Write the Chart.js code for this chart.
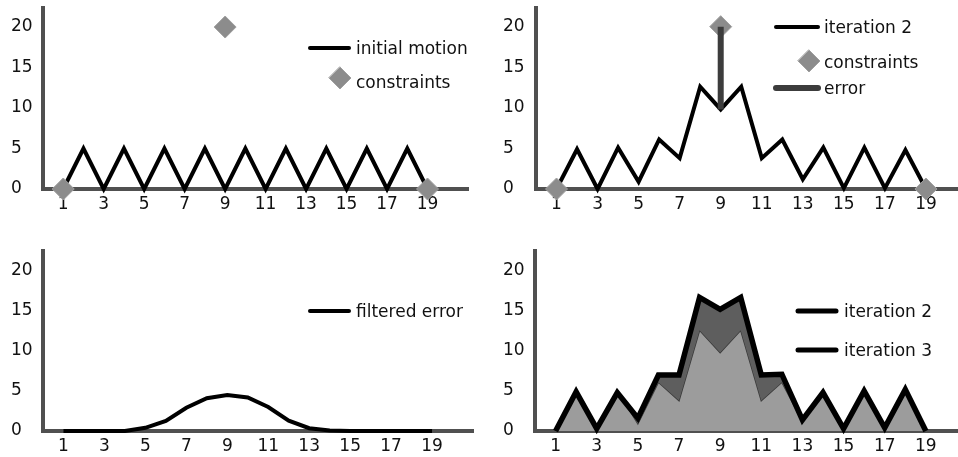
<!DOCTYPE html>
<html>
<head>
<meta charset="utf-8">
<script src="https://cdn.jsdelivr.net/npm/chart.js@4.4.1/dist/chart.umd.min.js"></script>
<style>
  html, body { margin:0; padding:0; background:#fff; width:958px; height:457px; overflow:hidden; }
  canvas { position:absolute; }
</style>
</head>
<body>
<canvas id="c1" width="480" height="248" style="left:0px;top:-20px"></canvas>
<canvas id="c2" width="500" height="248" style="left:479px;top:-20px"></canvas>
<canvas id="c3" width="480" height="249" style="left:0px;top:208px"></canvas>
<canvas id="c4" width="500" height="249" style="left:479px;top:208px"></canvas>
<script>
// ---------- data ----------
const xs = [1,2,3,4,5,6,7,8,9,10,11,12,13,14,15,16,17,18,19];
const xTickValues = [1,3,5,7,9,11,13,15,17,19];
const yTickValues = [0,5,10,15,20];

const initialMotion = [0,5,0,5,0,5,0,5,0,5,0,5,0,5,0,5,0,5,0];
const constraintX = [1,9,19];
const constraintY = [0,20,0];
const iteration2 = [0,4.9,0,5.1,0.9,6.1,3.8,12.6,9.8,12.6,3.8,6.1,1.2,5.1,0.1,5.1,0.1,4.8,0];
const errorX = [9,9];
const errorY = [20,9.8];
const filteredError = [0,0,0,0,0.4,1.25,2.9,4.1,4.5,4.2,3.0,1.3,0.35,0.05,0,0,0,0,0];
const iteration3 = [0,4.9,0.3,4.8,1.6,7.0,7.0,16.7,15.2,16.7,7.0,7.1,1.4,4.8,0.3,5.0,0.4,5.2,0];

// ---------- helpers ----------
const FONT_FAMILY = '"DejaVu Sans", "Liberation Sans", sans-serif';
const FONT_SIZE = 17;
const AXIS_COLOR = '#505050';
const DIAMOND_FILL = '#8c8c8c';
const DIAMOND_BORDER = '#a0a0a0';

function pts(xArr, yArr) { return xArr.map((x, i) => ({ x: x, y: yArr[i] })); }

function makeLegend(items, ox, oy) {
  return {
    id: 'panelLegend',
    afterDatasetsDraw(chart) {
      const ctx = chart.ctx;
      ctx.save();
      for (const it of items) {
        if (it.kind === 'line') {
          ctx.strokeStyle = it.color; ctx.lineWidth = it.width; ctx.lineCap = 'round';
          ctx.beginPath(); ctx.moveTo(it.x1 - ox, it.y - oy); ctx.lineTo(it.x2 - ox, it.y - oy); ctx.stroke();
        } else {
          const cx = it.cx - ox, cy = it.y - oy, r = it.r;
          ctx.fillStyle = DIAMOND_FILL; ctx.strokeStyle = DIAMOND_BORDER; ctx.lineWidth = 1;
          ctx.beginPath(); ctx.moveTo(cx, cy - r); ctx.lineTo(cx + r, cy); ctx.lineTo(cx, cy + r); ctx.lineTo(cx - r, cy); ctx.closePath();
          ctx.fill(); ctx.stroke();
        }
        ctx.fillStyle = '#111';
        ctx.font = FONT_SIZE + 'px ' + FONT_FAMILY;
        ctx.textBaseline = 'alphabetic'; ctx.textAlign = 'left';
        ctx.fillText(it.text, it.tx - ox, it.ty - oy);
      }
      ctx.restore();
    }
  };
}

function scales(yMax, yWidth, xHeight) {
  return {
    x: {
      type: 'linear', min: 0, max: 21,
      grid: { display: false, drawTicks: false },
      border: { display: true, color: AXIS_COLOR, width: 4 },
      afterBuildTicks: s => { s.ticks = xTickValues.map(v => ({ value: v })); },
      afterFit: s => { s.height = xHeight; },
      ticks: { autoSkip: false, maxRotation: 0, padding: 5, color: '#111',
               font: { family: FONT_FAMILY, size: FONT_SIZE },
               callback: v => String(v) }
    },
    y: {
      type: 'linear', min: 0, max: yMax,
      grid: { display: false, drawTicks: false },
      border: { display: true, color: AXIS_COLOR, width: 4 },
      afterBuildTicks: s => { s.ticks = yTickValues.map(v => ({ value: v })); },
      afterFit: s => { s.width = yWidth; },
      ticks: { crossAlign: 'far', padding: 0, color: '#111',
               font: { family: FONT_FAMILY, size: FONT_SIZE },
               callback: v => String(v) }
    }
  };
}

function baseOptions(padding, yMax, yWidth, xHeight) {
  return {
    responsive: false, animation: false, devicePixelRatio: 1,
    layout: { padding: padding },
    plugins: { legend: { display: false }, tooltip: { enabled: false } },
    scales: scales(yMax, yWidth, xHeight),
    elements: { point: { radius: 0 } }
  };
}

function diamondDataset(label, order) {
  return {
    label: label, data: pts(constraintX, constraintY), showLine: false,
    pointStyle: 'rectRot', pointRadius: 11, pointBackgroundColor: DIAMOND_FILL,
    pointBorderColor: DIAMOND_BORDER, pointBorderWidth: 1, clip: false, order: order
  };
}

function lineDataset(label, yArr, color, width, order) {
  return {
    label: label, data: pts(xs, yArr), borderColor: color, borderWidth: width,
    pointRadius: 0, fill: false, tension: 0, borderJoinStyle: 'miter', borderCapStyle: 'butt',
    clip: false, order: order
  };
}

// ---------- panel 1 ----------
new Chart(document.getElementById('c1'), {
  type: 'line',
  data: { datasets: [
    lineDataset('initial motion', initialMotion, '#000', 4, 1),
    diamondDataset('constraints', 0)
  ]},
  options: baseOptions({ top: 28, left: 11, right: 7, bottom: 0 }, 22.35, 32, 39),
  plugins: [makeLegend([
    { kind: 'line', x1: 310, x2: 349, y: 48, color: '#000', width: 4, text: 'initial motion', tx: 356, ty: 54 },
    { kind: 'diamond', cx: 340, y: 78, r: 11, text: 'constraints', tx: 356, ty: 88 }
  ], 0, -20)]
});

// ---------- panel 2 ----------
new Chart(document.getElementById('c2'), {
  type: 'line',
  data: { datasets: [
    lineDataset('iteration 2', iteration2, '#000', 4, 2),
    diamondDataset('constraints', 1),
    { label: 'error', data: pts(errorX, errorY), borderColor: '#3c3c3c', borderWidth: 6,
      pointRadius: 0, fill: false, borderCapStyle: 'butt', clip: false, order: 0 }
  ]},
  options: baseOptions({ top: 28, left: 24, right: 12, bottom: 0 }, 22.3, 33, 39),
  plugins: [makeLegend([
    { kind: 'line', x1: 776, x2: 818, y: 27, color: '#000', width: 4, text: 'iteration 2', tx: 824, ty: 33 },
    { kind: 'diamond', cx: 809, y: 61, r: 11, text: 'constraints', tx: 824, ty: 68 },
    { kind: 'line', x1: 776, x2: 818, y: 88, color: '#3c3c3c', width: 6, text: 'error', tx: 824, ty: 94 }
  ], 479, -20)]
});

// ---------- panel 3 ----------
new Chart(document.getElementById('c3'), {
  type: 'line',
  data: { datasets: [
    lineDataset('filtered error', filteredError, '#000', 4, 0)
  ]},
  options: baseOptions({ top: 43, left: 11, right: 7, bottom: 0 }, 22.5, 32, 26),
  plugins: [makeLegend([
    { kind: 'line', x1: 310, x2: 349, y: 311, color: '#000', width: 4, text: 'filtered error', tx: 356, ty: 317 }
  ], 0, 208)]
});

// ---------- panel 4 ----------
new Chart(document.getElementById('c4'), {
  type: 'line',
  data: { datasets: [
    { label: 'iteration 2', data: pts(xs, iteration2), borderColor: '#3a3a3a', borderWidth: 1.5,
      backgroundColor: '#9c9c9c', fill: 'origin', pointRadius: 0, tension: 0, clip: false, order: 1 },
    { label: 'iteration 3', data: pts(xs, iteration3), borderColor: '#000', borderWidth: 5.5,
      backgroundColor: '#5e5e5e', fill: '-1', pointRadius: 0, tension: 0, borderJoinStyle: 'miter',
      clip: false, order: 0 }
  ]},
  options: baseOptions({ top: 43, left: 24, right: 12, bottom: 0 }, 22.5, 32, 26),
  plugins: [makeLegend([
    { kind: 'line', x1: 798, x2: 836, y: 311, color: '#000', width: 5, text: 'iteration 2', tx: 844, ty: 317 },
    { kind: 'line', x1: 798, x2: 836, y: 350, color: '#000', width: 5, text: 'iteration 3', tx: 844, ty: 356 }
  ], 479, 208)]
});
</script>
</body>
</html>
